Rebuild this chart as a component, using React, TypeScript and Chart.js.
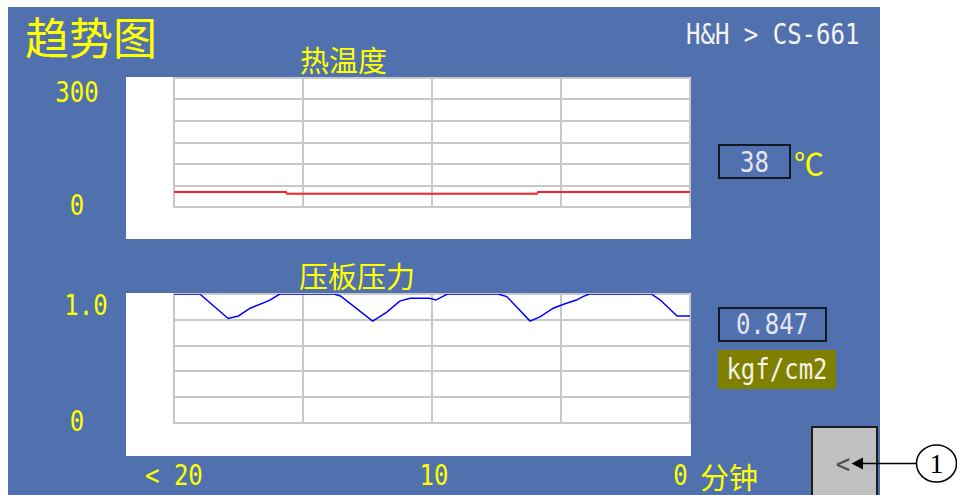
import React, { useEffect, useRef } from "react";
import { Chart, registerables } from "chart.js";

Chart.register(...registerables);

// ---------- data ----------
const xMinutesRange = [20, 0];
const xTickLabels = ["< 20", "10", "0"];
const xUnitLabel = "分钟";

const tempYLabels = ["300", "0"];
const tempMinutes = [20, 15.66, 15.62, 5.93, 5.89, 0];
const tempValues = [35, 35, 31, 31, 35, 35];
const tempCurrent = "38";

const pressYLabels = ["1.0", "0"];
const pressMinutes = [20, 19.0, 17.9, 17.5, 17.05, 16.3, 15.9, 13.8, 13.55, 12.3, 11.75, 11.25, 10.85, 10.1, 9.85, 9.4, 7.45, 7.1, 6.2, 5.8, 5.3, 4.9, 4.4, 4.15, 3.9, 1.5, 1.15, 0.5, 0];
const pressValues = [1.0, 1.0, 0.81, 0.83, 0.89, 0.95, 1.0, 1.0, 0.985, 0.79, 0.86, 0.945, 0.967, 0.967, 0.953, 1.0, 1.0, 0.98, 0.79, 0.825, 0.89, 0.92, 0.953, 0.98, 1.0, 1.0, 0.953, 0.83, 0.83];
const pressCurrent = "0.847";

// ---------- style ----------
const BLUE = "#5171ae";
const YELLOW = "#ffff00";
const GRID = "#c8c8c8";
const MONO = '"DejaVu Sans Mono", monospace';
const CJK = '"Noto Sans CJK SC", sans-serif';

type TxtProps = {
  x: number; y: number; text: string; size: number; color: string; font: string;
  anchor?: "left" | "center" | "right"; sy?: number; ls?: number;
};

function Txt({ x, y, text, size, color, font, anchor = "center", sy = 1, ls = 0 }: TxtProps) {
  const tx = anchor === "left" ? "0" : anchor === "right" ? "-100%" : "-50%";
  return (
    <div
      style={{
        position: "absolute", left: x, top: y, fontSize: size, lineHeight: `${size}px`,
        fontFamily: font, color, whiteSpace: "nowrap", letterSpacing: ls,
        transform: `translate(${tx}, -50%) scaleY(${sy})`,
      }}
    >
      {text}
    </div>
  );
}

function TrendChart(props: {
  left: number; top: number; width: number; height: number; bottomPad: number;
  xs: number[]; ys: number[]; color: string; lineWidth: number; yMax: number; yStep: number;
}) {
  const ref = useRef<HTMLCanvasElement | null>(null);
  useEffect(() => {
    if (!ref.current) return;
    const gridOpts = { color: GRID, lineWidth: 2, drawTicks: false };
    const chart = new Chart(ref.current, {
      type: "line",
      data: {
        datasets: [
          {
            data: props.xs.map((x, i) => ({ x, y: props.ys[i] })),
            borderColor: props.color,
            borderWidth: props.lineWidth,
            pointRadius: 0,
            tension: 0,
            fill: false,
          },
        ],
      },
      options: {
        animation: false,
        responsive: false,
        layout: { padding: { left: 48, top: 1, right: 1, bottom: props.bottomPad } },
        plugins: { legend: { display: false }, tooltip: { enabled: false } },
        scales: {
          x: {
            type: "linear", min: xMinutesRange[1], max: xMinutesRange[0], reverse: true,
            ticks: { display: false, stepSize: 5 },
            grid: gridOpts, border: { display: true, color: GRID, width: 2 },
          },
          y: {
            type: "linear", min: 0, max: props.yMax,
            ticks: { display: false, stepSize: props.yStep },
            grid: gridOpts, border: { display: true, color: GRID, width: 2 },
          },
        },
      },
    } as any);
    return () => chart.destroy();
  }, []);
  return (
    <div style={{ position: "absolute", left: props.left, top: props.top, width: props.width, height: props.height, background: "#ffffff" }}>
      <canvas ref={ref} width={props.width} height={props.height} style={{ display: "block", width: props.width, height: props.height }} />
    </div>
  );
}

export default function App() {
  const monoSize = 24;
  const sy = 1.15;
  return (
    <div style={{ position: "absolute", left: 0, top: 0, width: 957, height: 495, overflow: "hidden", background: "#ffffff" }}>
      <div style={{ position: "absolute", left: 8, top: 7, width: 872, height: 488, background: BLUE }} />

      <Txt x={25} y={36} text="趋势图" size={44} color={YELLOW} font={CJK} anchor="left" />
      <Txt x={686} y={35} text="H&H > CS-661" size={monoSize} color="#f4f4f4" font={MONO} anchor="left" sy={sy} />

      <Txt x={343.5} y={59} text="热温度" size={29} color={YELLOW} font={CJK} />
      <TrendChart left={126} top={77} width={565} height={162} bottomPad={32}
        xs={tempMinutes} ys={tempValues} color="#ff2020" lineWidth={2} yMax={300} yStep={50} />
      <Txt x={77} y={93} text={tempYLabels[0]} size={monoSize} color={YELLOW} font={MONO} sy={sy} />
      <Txt x={77} y={206} text={tempYLabels[1]} size={monoSize} color={YELLOW} font={MONO} sy={sy} />

      <div style={{ position: "absolute", left: 718, top: 144, width: 73, height: 35, boxSizing: "border-box", border: "2px solid #121a2a" }} />
      <Txt x={754.5} y={163} text={tempCurrent} size={monoSize} color="#e6e6f2" font={MONO} sy={sy} />
      <Txt x={809} y={162} text="℃" size={30} color={YELLOW} font={CJK} />

      <Txt x={357} y={275} text="压板压力" size={29} color={YELLOW} font={CJK} />
      <TrendChart left={126} top={293} width={565} height={163} bottomPad={33}
        xs={pressMinutes} ys={pressValues} color="#0000ff" lineWidth={1.5} yMax={1.0} yStep={0.2} />
      <Txt x={86} y={306} text={pressYLabels[0]} size={monoSize} color={YELLOW} font={MONO} sy={sy} />
      <Txt x={77} y={422} text={pressYLabels[1]} size={monoSize} color={YELLOW} font={MONO} sy={sy} />

      <div style={{ position: "absolute", left: 718, top: 307, width: 109, height: 35, boxSizing: "border-box", border: "2px solid #121a2a" }} />
      <Txt x={772} y={325} text={pressCurrent} size={monoSize} color="#e6e6f2" font={MONO} sy={sy} />
      <div style={{ position: "absolute", left: 718, top: 350, width: 118, height: 39, background: "#808000" }} />
      <Txt x={777} y={370} text="kgf/cm2" size={monoSize} color="#f2f2e6" font={MONO} sy={sy} />

      <Txt x={145} y={476} text={xTickLabels[0]} size={monoSize} color={YELLOW} font={MONO} anchor="left" sy={sy} />
      <Txt x={434} y={476} text={xTickLabels[1]} size={monoSize} color={YELLOW} font={MONO} sy={sy} />
      <Txt x={680.5} y={476} text={xTickLabels[2]} size={monoSize} color={YELLOW} font={MONO} sy={sy} />
      <Txt x={700} y={476} text={xUnitLabel} size={29} color={YELLOW} font={CJK} anchor="left" />

      <div style={{ position: "absolute", left: 811, top: 426, width: 67, height: 72, boxSizing: "border-box", border: "2px solid #1c1c1c", background: "#c0c0c0" }} />
      <Txt x={843} y={464} text="<" size={24} color="#505050" font={MONO} sy={1.1} />

      <svg style={{ position: "absolute", left: 800, top: 420 }} width={157} height={75}>
        <line x1={862} x2={916} y1={463.5} y2={463.5} transform="translate(-800,-420)" stroke="#000" strokeWidth={1.5} />
        <polygon points="851.5,463.5 863,457.5 863,469.5" transform="translate(-800,-420)" fill="#000" />
        <ellipse cx={936.5} cy={463.5} rx={20} ry={18.5} transform="translate(-800,-420)" fill="none" stroke="#000" strokeWidth={1.5} />
      </svg>
      <Txt x={936.5} y={464} text="1" size={28} color="#000" font={'"Liberation Serif", serif'} />
    </div>
  );
}
